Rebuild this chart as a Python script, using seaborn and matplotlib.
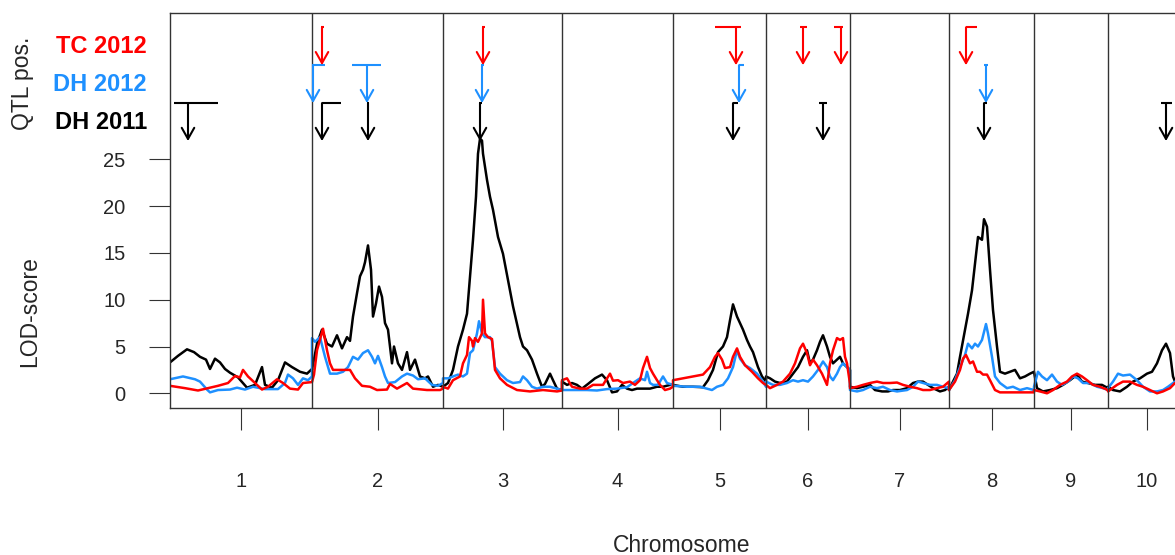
import matplotlib
matplotlib.use("Agg")
import matplotlib.pyplot as plt
import matplotlib.transforms as mtransforms
import numpy as np
import pandas as pd
import seaborn as sns

# chromosomes (lengths in cM)
chrom_names = [1, 2, 3, 4, 5, 6, 7, 8, 9, 10]
chrom_len = [142, 131, 119, 111, 93, 84, 99, 85, 74, 78]

# LOD profiles, DH 2011 (black)
dh11_pos = {
    1: [0, 8, 17, 24, 30, 36, 40, 45, 50, 55, 60, 68, 77, 85, 89, 92, 95, 102, 108, 115, 122, 130, 137, 142],
    2: [0, 5, 10, 15, 20, 25, 30, 35, 38, 41, 45, 48, 51, 53, 56, 59, 61, 64, 67, 70, 73, 76, 80, 82, 86, 90, 95, 98, 103, 108, 113, 116, 121, 126, 131],
    3: [0, 5, 10, 15, 20, 24, 27, 30, 33, 35, 37, 39, 40, 44, 47, 50, 55, 60, 65, 70, 77, 80, 84, 89, 94, 99, 102, 107, 110, 114, 119],
    4: [0, 5, 10, 15, 20, 26, 33, 40, 45, 50, 55, 60, 65, 70, 75, 81, 88, 95, 101, 108, 111],
    5: [0, 10, 20, 30, 35, 40, 45, 50, 54, 57, 60, 64, 67, 70, 74, 77, 80, 85, 89, 93],
    6: [0, 4, 9, 14, 21, 27, 32, 37, 41, 44, 47, 51, 54, 57, 61, 64, 67, 71, 74, 77, 81, 84],
    7: [0, 7, 13, 20, 25, 32, 38, 43, 50, 57, 63, 68, 73, 78, 83, 90, 95, 99],
    8: [0, 4, 8, 11, 16, 19, 23, 26, 29, 33, 35, 38, 41, 44, 48, 51, 56, 61, 66, 71, 76, 81, 85],
    9: [0, 3, 9, 16, 23, 29, 36, 43, 48, 54, 61, 68, 74],
    10: [0, 5, 12, 19, 25, 32, 39, 44, 49, 54, 58, 62, 65, 67, 78],
}
dh11_lod = {
    1: [3.3, 4.0, 4.7, 4.4, 3.9, 3.6, 2.6, 3.7, 3.3, 2.6, 2.2, 1.7, 0.6, 0.9, 2.0, 2.8, 0.9, 0.6, 1.4, 3.3, 2.8, 2.3, 2.1, 2.6],
    2: [2.5, 5.3, 6.8, 5.3, 5.0, 6.2, 4.8, 6.0, 5.6, 8.2, 10.7, 12.5, 13.2, 14.0, 15.8, 13.2, 8.2, 9.6, 11.4, 10.3, 7.5, 6.8, 3.2, 5.0, 3.2, 2.5, 4.4, 2.5, 3.6, 1.8, 1.6, 1.8, 0.7, 0.9, 0.7],
    3: [0.7, 1.1, 2.5, 5.0, 6.8, 8.5, 12.5, 16.4, 21.0, 25.6, 27.2, 27.0, 25.6, 22.8, 21.0, 19.6, 16.7, 14.9, 12.1, 9.3, 6.0, 5.0, 4.6, 3.6, 2.1, 0.7, 1.0, 2.1, 1.4, 0.5, 0.35],
    4: [1.25, 0.9, 1.1, 0.9, 0.5, 1.0, 1.6, 2.0, 1.4, 0.1, 0.2, 0.9, 0.5, 0.35, 0.5, 0.5, 0.5, 0.7, 0.7, 0.9, 0.9],
    5: [0.9, 0.7, 0.7, 0.65, 1.4, 2.5, 4.4, 5.0, 6.0, 7.8, 9.5, 8.2, 7.5, 6.8, 5.7, 5.0, 4.4, 2.8, 1.8, 1.25],
    6: [1.8, 1.6, 1.25, 1.1, 1.25, 2.1, 2.8, 3.9, 4.6, 3.2, 3.6, 4.6, 5.5, 6.2, 5.0, 3.9, 3.2, 3.6, 3.9, 3.2, 2.8, 2.5],
    7: [0.7, 0.55, 0.7, 0.9, 0.35, 0.2, 0.2, 0.35, 0.35, 0.55, 1.1, 1.25, 1.25, 0.9, 0.55, 0.2, 0.35, 0.7],
    8: [0.35, 1.25, 2.1, 3.9, 6.8, 8.5, 11.0, 13.9, 16.7, 16.4, 18.6, 17.8, 13.2, 8.9, 5.0, 2.3, 2.1, 2.3, 2.5, 1.6, 1.8, 2.1, 2.3],
    9: [2.3, 0.55, 0.2, 0.35, 0.55, 0.9, 1.4, 2.0, 1.25, 1.1, 0.9, 0.9, 0.55],
    10: [0.7, 0.35, 0.2, 0.7, 1.25, 1.6, 2.1, 2.3, 3.2, 4.6, 5.3, 4.3, 1.8, 1.25, 0.9],
}

# LOD profiles, DH 2012 (blue)
dh12_pos = {
    1: [0, 13, 25, 30, 37, 40, 48, 60, 67, 75, 83, 95, 108, 115, 118, 123, 128, 133, 138, 142],
    2: [0, 3, 8, 13, 18, 25, 31, 36, 41, 46, 51, 56, 60, 63, 66, 70, 73, 76, 83, 90, 95, 101, 106, 113, 120, 126, 131],
    3: [0, 5, 10, 15, 20, 24, 27, 30, 34, 36, 39, 42, 47, 49, 52, 57, 64, 70, 77, 80, 84, 89, 94, 100, 107, 114, 119],
    4: [0, 11, 25, 35, 45, 55, 65, 71, 78, 83, 85, 88, 91, 96, 101, 105, 111],
    5: [0, 14, 27, 34, 39, 44, 50, 55, 60, 64, 67, 72, 77, 84, 89, 93],
    6: [0, 7, 14, 21, 27, 32, 37, 42, 47, 52, 57, 61, 64, 67, 71, 74, 77, 81, 84],
    7: [0, 7, 13, 20, 27, 33, 40, 47, 57, 63, 68, 73, 80, 87, 93, 99],
    8: [0, 6, 11, 16, 19, 23, 26, 29, 33, 37, 39, 43, 46, 51, 58, 64, 71, 78, 85],
    9: [0, 4, 8, 13, 18, 23, 28, 34, 39, 44, 49, 56, 63, 69, 74],
    10: [0, 5, 10, 15, 22, 29, 35, 42, 49, 55, 60, 67, 78],
}
dh12_lod = {
    1: [1.5, 1.8, 1.5, 1.25, 0.4, 0.1, 0.35, 0.4, 0.6, 0.4, 0.7, 0.45, 0.45, 1.1, 2.0, 1.6, 0.9, 1.6, 1.4, 1.8],
    2: [5.9, 5.5, 6.0, 3.9, 2.1, 2.1, 2.3, 2.8, 3.9, 3.6, 4.3, 4.6, 3.9, 3.2, 4.0, 2.8, 1.8, 1.1, 1.2, 1.8, 2.1, 1.9, 1.5, 1.6, 0.9, 0.8, 1.1],
    3: [1.6, 1.6, 1.8, 2.0, 1.8, 2.1, 4.3, 4.6, 6.4, 7.7, 6.4, 6.0, 6.0, 5.6, 2.8, 2.1, 1.4, 1.1, 1.2, 1.8, 1.4, 0.7, 0.5, 0.7, 0.7, 0.5, 0.35],
    4: [0.35, 0.35, 0.35, 0.3, 0.45, 0.5, 0.65, 1.1, 1.6, 1.4, 2.3, 1.1, 0.9, 0.9, 1.8, 1.1, 0.9],
    5: [0.8, 0.7, 0.7, 0.5, 0.35, 0.7, 0.9, 1.6, 2.8, 4.6, 3.7, 3.0, 2.7, 2.1, 1.4, 0.7],
    6: [1.25, 0.9, 0.9, 1.1, 1.4, 1.25, 1.4, 1.25, 1.8, 2.5, 3.4, 2.8, 1.8, 1.4, 2.1, 2.8, 3.2, 2.8, 2.5],
    7: [0.35, 0.2, 0.35, 0.7, 0.55, 0.7, 0.35, 0.2, 0.35, 0.7, 1.25, 1.1, 0.9, 0.9, 0.7, 0.55],
    8: [0.35, 1.4, 2.8, 4.1, 5.3, 4.8, 5.3, 5.0, 5.7, 7.4, 6.4, 3.9, 1.8, 1.1, 0.55, 0.7, 0.35, 0.55, 0.35],
    9: [0.7, 2.3, 1.8, 1.4, 2.0, 1.25, 0.9, 1.25, 1.8, 1.6, 1.1, 1.1, 0.7, 0.55, 0.35],
    10: [0.55, 1.25, 2.1, 1.9, 2.0, 1.4, 0.7, 0.2, 0.2, 0.35, 0.7, 1.25, 1.5],
}

# LOD profiles, TC 2012 (red)
tc12_pos = {
    1: [0, 15, 28, 38, 48, 58, 65, 70, 73, 78, 85, 92, 98, 107, 113, 120, 128, 133, 142],
    2: [0, 2, 5, 11, 15, 18, 21, 28, 38, 43, 50, 58, 65, 75, 78, 85, 95, 101, 115, 128, 131],
    3: [0, 5, 10, 17, 20, 24, 26, 29, 30, 32, 35, 39, 40, 42, 45, 49, 52, 57, 64, 74, 87, 100, 114, 119],
    4: [0, 5, 10, 18, 25, 31, 41, 48, 51, 56, 61, 68, 73, 78, 81, 85, 88, 91, 95, 98, 103, 108, 111],
    5: [0, 10, 20, 30, 37, 42, 45, 49, 52, 57, 60, 64, 67, 72, 79, 85, 90, 93],
    6: [0, 4, 11, 17, 24, 29, 34, 37, 41, 44, 47, 51, 56, 61, 64, 67, 71, 74, 77, 79, 81, 84],
    7: [0, 7, 13, 20, 27, 33, 40, 47, 53, 60, 67, 73, 80, 87, 93, 99],
    8: [0, 6, 11, 14, 17, 21, 24, 28, 31, 34, 38, 41, 46, 51, 64, 78, 85],
    9: [0, 6, 13, 19, 26, 33, 38, 43, 48, 53, 59, 66, 74],
    10: [0, 9, 15, 22, 29, 35, 42, 49, 55, 62, 67, 78],
}
tc12_lod = {
    1: [0.8, 0.55, 0.3, 0.55, 0.8, 1.1, 1.85, 1.7, 2.5, 1.8, 1.1, 0.4, 0.7, 1.5, 1.1, 0.5, 0.4, 1.1, 1.2],
    2: [1.2, 2.0, 4.6, 6.9, 4.6, 3.2, 2.5, 2.5, 2.5, 1.6, 0.8, 0.7, 0.35, 0.4, 1.0, 0.5, 1.1, 0.5, 0.35, 0.35, 0.5],
    3: [0.7, 0.5, 1.4, 1.8, 3.2, 4.1, 6.0, 5.6, 5.0, 5.9, 5.5, 6.4, 10.0, 6.4, 6.0, 5.8, 2.5, 1.6, 0.9, 0.35, 0.2, 0.35, 0.2, 0.3],
    4: [1.4, 1.6, 0.7, 0.5, 0.5, 0.9, 0.9, 2.1, 1.35, 1.4, 1.1, 1.25, 0.9, 1.4, 2.7, 3.9, 2.7, 2.1, 1.4, 0.9, 0.35, 0.5, 0.7],
    5: [1.4, 1.6, 1.8, 2.0, 2.8, 3.9, 4.3, 3.6, 2.7, 2.8, 3.9, 4.8, 3.9, 3.0, 2.3, 1.6, 1.1, 0.9],
    6: [0.9, 0.55, 0.9, 1.25, 2.1, 3.2, 4.8, 5.3, 4.3, 3.0, 3.6, 3.0, 2.1, 0.9, 3.2, 4.6, 5.9, 5.7, 5.9, 3.9, 3.2, 1.0],
    7: [0.55, 0.7, 0.9, 1.1, 1.25, 1.1, 1.1, 1.15, 0.9, 0.7, 0.55, 0.35, 0.35, 0.55, 0.7, 1.25],
    8: [0.35, 1.25, 2.5, 3.7, 4.1, 3.2, 3.4, 2.3, 2.3, 2.0, 2.0, 1.4, 0.35, 0.1, 0.1, 0.1, 0.1],
    9: [0.35, 0.2, 0.0, 0.35, 0.9, 1.25, 1.8, 2.1, 1.8, 1.4, 0.9, 0.7, 0.35],
    10: [0.2, 0.9, 1.25, 1.25, 0.9, 0.7, 0.35, 0.0, 0.2, 0.55, 1.1, 1.4],
}

# QTL positions with support intervals (cM on the chromosome)
qtl_trait = ["TC 2012"] * 6 + ["DH 2012"] * 5 + ["DH 2011"] * 8
qtl_chrom = [2, 3, 5, 6, 6, 8,   2, 2, 3, 5, 8,   1, 2, 2, 3, 5, 6, 8, 10]
qtl_pos = [10, 40, 63, 37, 75, 17,   1, 55, 39, 66, 37,   18, 10, 56, 37, 60, 57, 35, 58]
qtl_lo = [9, 39, 42, 34, 68, 17,   0, 40, 38, 66, 35,   4, 10, 55, 36, 60, 53, 35, 53]
qtl_hi = [12, 42, 68, 41, 77, 28,   13, 69, 41, 71, 39,   48, 29, 57, 39, 65, 61, 38, 64]

traits = ["DH 2011", "DH 2012", "TC 2012"]
colors = {"TC 2012": "#FF0000", "DH 2012": "#1E90FF", "DH 2011": "black"}
band_top = {"TC 2012": 39.1, "DH 2012": 35.05, "DH 2011": 31.0}
band_h = 4.05

chrom_start = dict(zip(chrom_names, np.concatenate([[0], np.cumsum(chrom_len)[:-1]])))
chrom_mid = [chrom_start[c] + l / 2 for c, l in zip(chrom_names, chrom_len)]

rows = []
for trait, pos_d, lod_d in [("DH 2011", dh11_pos, dh11_lod),
                            ("DH 2012", dh12_pos, dh12_lod),
                            ("TC 2012", tc12_pos, tc12_lod)]:
    for c in chrom_names:
        for p, l in zip(pos_d[c], lod_d[c]):
            rows.append((trait, c, chrom_start[c] + p, l))
df = pd.DataFrame(rows, columns=["trait", "chrom", "gpos", "lod"])

sns.set_style("white")
plt.rcParams["font.family"] = ["Liberation Sans", "DejaVu Sans"]

W, H = 1175, 555
fig = plt.figure(figsize=(W / 100, H / 100), dpi=100)
ax = fig.add_axes([170 / W, 147 / H, 1016 / W, 395 / H])

for t in traits:
    sns.lineplot(data=df[df.trait == t], x="gpos", y="lod", color=colors[t],
                 lw=1.8, sort=False, estimator=None, ax=ax)

for c in chrom_names[1:]:
    ax.axvline(chrom_start[c], color="0.2", lw=1.0)

# QTL arrows
for t, c, p, lo, hi in zip(qtl_trait, qtl_chrom, qtl_pos, qtl_lo, qtl_hi):
    s = chrom_start[c]
    top = band_top[t]
    col = colors[t]
    ax.plot([s + lo, s + hi], [top, top], color=col, lw=1.5, solid_capstyle="butt")
    ax.annotate("", xy=(s + p, top - band_h), xytext=(s + p, top),
                arrowprops=dict(arrowstyle="->,head_length=0.8,head_width=0.45",
                                color=col, lw=1.5, shrinkA=0, shrinkB=0,
                                mutation_scale=10))

ax.set_xlim(0, sum(chrom_len))
ax.set_ylim(-1.57, 40.63)
ax.set_xlabel("")
ax.set_ylabel("")
ax.set_xticks(chrom_mid)
ax.set_xticklabels([str(c) for c in chrom_names])
ax.set_yticks([0, 5, 10, 15, 20, 25])
ax.tick_params(axis="x", bottom=True, length=15.8, width=0.8, pad=30,
               labelsize=14.5, direction="out", color="0.2")
ax.tick_params(axis="y", left=True, length=15, width=0.8, pad=17,
               labelsize=14.5, direction="out", color="0.2")
for sp in ax.spines.values():
    sp.set_linewidth(1.0)
    sp.set_color("0.2")

tr = mtransforms.blended_transform_factory(fig.transFigure, ax.transData)
for t in ["TC 2012", "DH 2012", "DH 2011"]:
    ax.text(147 / W, band_top[t] - band_h / 2, t, transform=tr, ha="right",
            va="center", color=colors[t], fontsize=17, fontweight="bold")

fig.text(23 / W, 1 - 83 / H, "QTL pos.", rotation=90, ha="center", va="center", fontsize=16.5)
fig.text(30 / W, 1 - 312 / H, "LOD-score", rotation=90, ha="center", va="center", fontsize=16.5)
fig.text(682 / W, 1 - 545 / H, "Chromosome", ha="center", va="center", fontsize=16.5)

fig.savefig("out.png", dpi=100)
